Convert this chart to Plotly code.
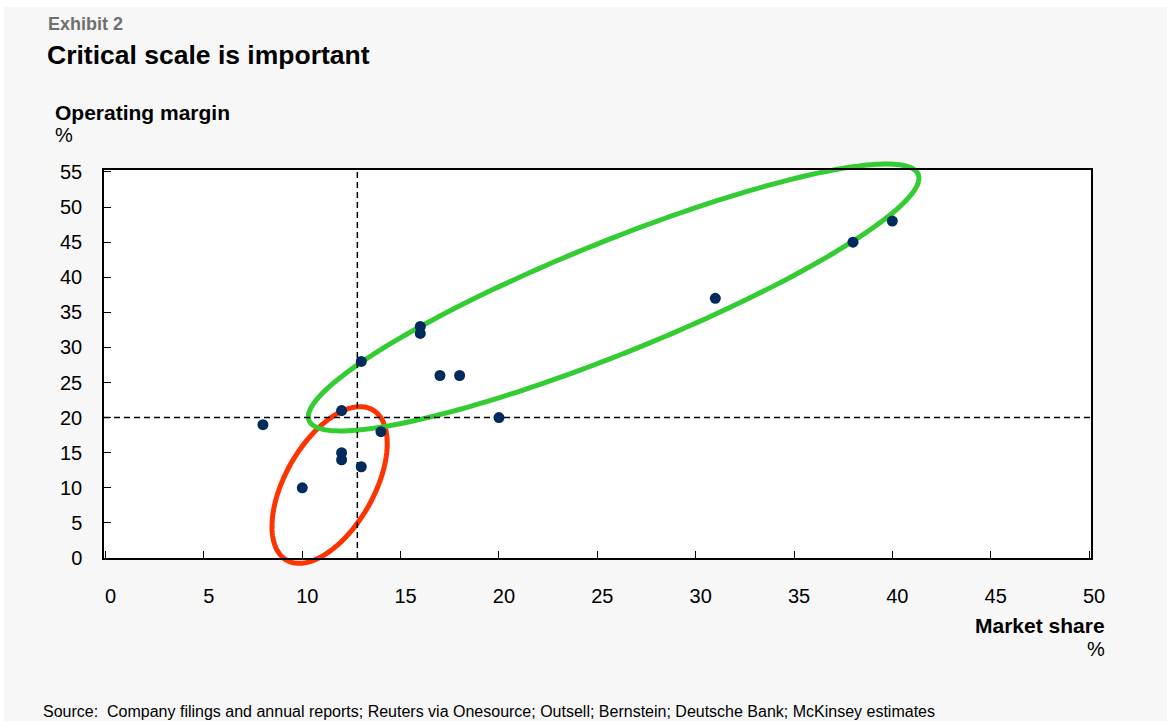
import numpy as np
import plotly.graph_objects as go

# ---------------- data ----------------
market_share = [8, 10, 12, 12, 12, 13, 13, 14, 16, 16, 17, 18, 20, 31, 38, 40]
operating_margin = [19, 10, 21, 15, 14, 28, 13, 18, 33, 32, 26, 26, 20, 37, 45, 48]

x_ticks = [0, 5, 10, 15, 20, 25, 30, 35, 40, 45, 50]
y_ticks = [0, 5, 10, 15, 20, 25, 30, 35, 40, 45, 50, 55]

ref_market_share = 12.8      # vertical dashed reference line
ref_operating_margin = 20    # horizontal dashed reference line

# highlight ellipses: centre (data units), semi-axes (px), rotation (deg)
green_center = (25.83, 37.12)
green_axes = (328.5, 55.7)
green_angle = 22.0
red_center = (11.39, 10.40)
red_axes = (86.6, 44.2)
red_angle = 60.25

# ---------------- layout geometry ----------------
W, H = 1167, 721
ML, MR, MT, MB = 104, 76, 170, 163
PW, PH = W - ML - MR, H - MT - MB
x_range = [-0.08, 50.1]
y_range = [0, 55.28]
sx = PW / (x_range[1] - x_range[0])
sy = PH / (y_range[1] - y_range[0])


def ellipse_path(center, axes, angle_deg, n=240):
    """SVG path (paper coordinates) for a rotated ellipse given in data/pixel terms."""
    t = np.linspace(0, 2 * np.pi, n, endpoint=False)
    th = np.deg2rad(angle_deg)
    a, b = axes
    dx = a * np.cos(t) * np.cos(th) - b * np.sin(t) * np.sin(th)
    dy = a * np.cos(t) * np.sin(th) + b * np.sin(t) * np.cos(th)
    xd = center[0] + dx / sx
    yd = center[1] + dy / sy
    xp = (xd - x_range[0]) / (x_range[1] - x_range[0])
    yp = (yd - y_range[0]) / (y_range[1] - y_range[0])
    pts = [f"{x:.5f},{y:.5f}" for x, y in zip(xp, yp)]
    return "M" + " L".join(pts) + " Z"


def pxx(px):
    return (px - ML) / PW


def pxy(py):
    return (H - MB - py) / PH


FONT = "Arial, Liberation Sans, sans-serif"
GRAY_BG = "#f7f7f7"

fig = go.Figure()

fig.add_trace(go.Scatter(x=market_share, y=operating_margin, mode="markers",
                         marker=dict(color="#002b5c", size=11, line=dict(width=0)),
                         showlegend=False, cliponaxis=False))

# dashed reference lines
fig.add_shape(type="line", xref="x", yref="y", x0=ref_market_share, x1=ref_market_share,
              y0=y_range[0], y1=y_range[1], line=dict(color="black", width=1.5, dash="6px,4px"),
              layer="below")
fig.add_shape(type="line", xref="x", yref="y", x0=x_range[0], x1=x_range[1],
              y0=ref_operating_margin, y1=ref_operating_margin,
              line=dict(color="black", width=1.5, dash="6px,4px"), layer="below")

# highlight ellipses (paper-referenced so they are not clipped by the plot area)
fig.add_shape(type="path", xref="paper", yref="paper",
              path=ellipse_path(red_center, red_axes, red_angle),
              line=dict(color="#ff3300", width=5), fillcolor="rgba(0,0,0,0)", layer="below")
fig.add_shape(type="path", xref="paper", yref="paper",
              path=ellipse_path(green_center, green_axes, green_angle),
              line=dict(color="#33cc33", width=5), fillcolor="rgba(0,0,0,0)", layer="below")

# white border strips (outside plot)
fig.add_shape(type="rect", xref="paper", yref="paper", x0=pxx(0), x1=pxx(W), y0=pxy(0), y1=pxy(7),
              fillcolor="white", line=dict(width=0), layer="below")
fig.add_shape(type="rect", xref="paper", yref="paper", x0=pxx(0), x1=pxx(4), y0=pxy(H), y1=pxy(0),
              fillcolor="white", line=dict(width=0), layer="below")

annotations = [
    dict(text="<b>Exhibit 2</b>", x=pxx(46), y=pxy(24), font=dict(size=18, color="#707070")),
    dict(text="<b>Critical scale is important</b>", x=pxx(45), y=pxy(55), font=dict(size=26.5, color="black")),
    dict(text="<b>Operating margin</b>", x=pxx(53), y=pxy(112), font=dict(size=21, color="black")),
    dict(text="%", x=pxx(53), y=pxy(135), font=dict(size=20, color="black")),
    dict(text="Source:  Company filings and annual reports; Reuters via Onesource; Outsell; Bernstein; "
              "Deutsche Bank; McKinsey estimates", x=pxx(41), y=pxy(711), font=dict(size=16, color="black")),
]
for a in annotations:
    a.update(xref="paper", yref="paper", xanchor="left", yanchor="middle", showarrow=False)
right_annotations = [
    dict(text="<b>Market share</b>", x=pxx(1107), y=pxy(625), font=dict(size=21, color="black")),
    dict(text="%", x=pxx(1107), y=pxy(649), font=dict(size=20, color="black")),
]
for a in right_annotations:
    a.update(xref="paper", yref="paper", xanchor="right", yanchor="middle", showarrow=False)

fig.update_layout(
    width=W, height=H,
    margin=dict(l=ML, r=MR, t=MT, b=MB, pad=0),
    paper_bgcolor=GRAY_BG, plot_bgcolor="white",
    font=dict(family=FONT, color="black", size=20),
    annotations=annotations + right_annotations,
    xaxis=dict(range=x_range, tickvals=x_ticks, ticktext=[str(v) for v in x_ticks],
               ticks="inside", ticklen=7, tickcolor="black", tickwidth=1,
               showline=True, linecolor="black", linewidth=1.5, mirror=True,
               showgrid=False, zeroline=False, ticklabelstandoff=19, ticklabelshift=5,
               tickfont=dict(size=20, family=FONT)),
    yaxis=dict(range=y_range, tickvals=y_ticks, ticktext=[str(v) for v in y_ticks],
               ticks="inside", ticklen=7, tickcolor="black", tickwidth=1,
               showline=True, linecolor="black", linewidth=1.5, mirror=True,
               showgrid=False, zeroline=False, ticklabelstandoff=16,
               tickfont=dict(size=20, family=FONT)),
)

fig.write_html("out.html")
